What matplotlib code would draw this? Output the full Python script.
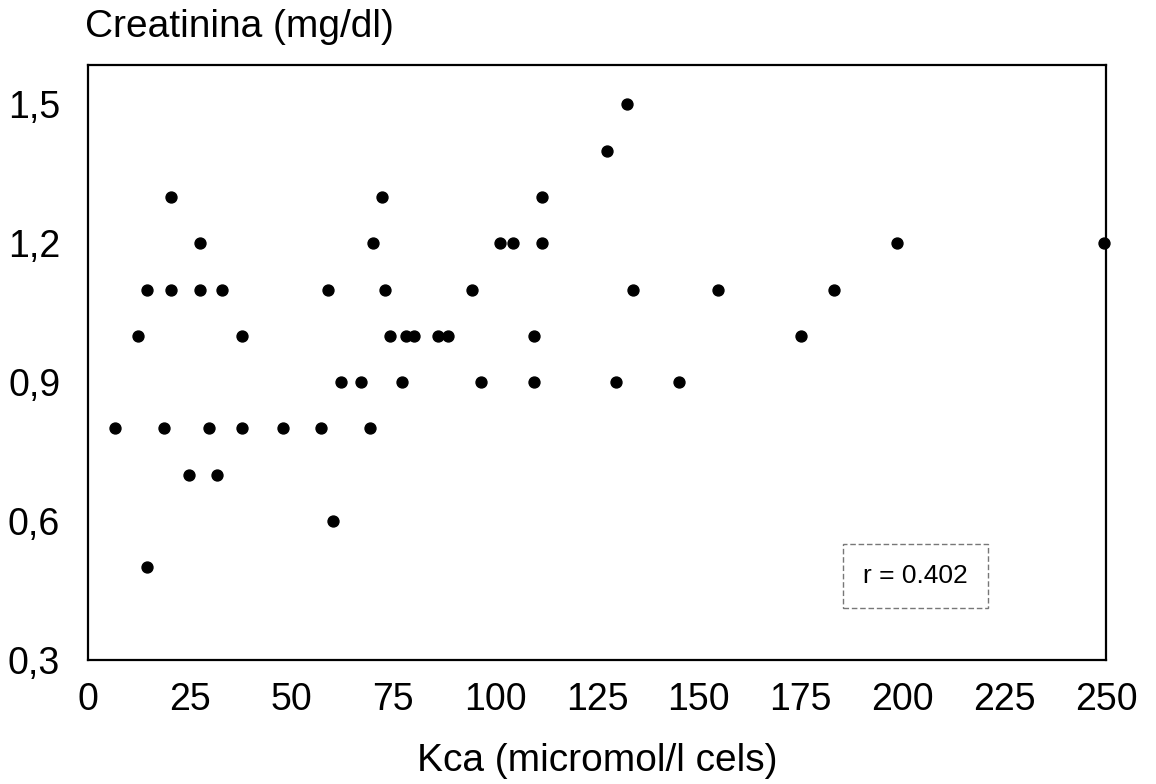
import matplotlib
matplotlib.use("Agg")
import matplotlib.pyplot as plt

plt.rcParams['font.family'] = ['Liberation Sans', 'DejaVu Sans']

# Kca (micromol/l cels) vs creatinina (mg/dl)
kca = [6.7, 12.3, 14.5, 14.5, 18.7, 20.5, 20.5, 24.7, 27.6, 27.6,
       29.8, 31.8, 32.8, 37.7, 37.7, 48.0, 57.2, 58.9, 60.2, 62.1,
       67.0, 69.3, 70.0, 72.2, 73.0, 74.2, 77.2, 78.2, 80.1, 86.0,
       88.3, 94.2, 96.4, 101.3, 104.3, 109.5, 109.5, 111.4, 111.4, 127.5,
       129.7, 132.4, 133.9, 145.2, 154.8, 175.0, 183.2, 198.7, 249.5]
creat = [0.8, 1.0, 1.1, 0.5, 0.8, 1.3, 1.1, 0.7, 1.2, 1.1,
         0.8, 0.7, 1.1, 1.0, 0.8, 0.8, 0.8, 1.1, 0.6, 0.9,
         0.9, 0.8, 1.2, 1.3, 1.1, 1.0, 0.9, 1.0, 1.0, 1.0,
         1.0, 1.1, 0.9, 1.2, 1.2, 1.0, 0.9, 1.3, 1.2, 1.4,
         0.9, 1.5, 1.1, 0.9, 1.1, 1.0, 1.1, 1.2, 1.2]

xticks = [0, 25, 50, 75, 100, 125, 150, 175, 200, 225, 250]
yticks = [0.3, 0.6, 0.9, 1.2, 1.5]
ylabels = ['0,3', '0,6', '0,9', '1,2', '1,5']
r_text = 'r = 0.402'

fig = plt.figure(figsize=(11.56, 7.84), dpi=100)
ax = fig.add_axes([88/1156, 1-660/784, (1106-88)/1156, (660-65)/784])

ax.scatter(kca, creat, s=62, color='black', zorder=3, clip_on=False)

ax.set_xlim(0, 250)
ax.set_ylim(0.3, 1.585)
ax.set_xticks(xticks)
ax.set_xticklabels([str(t) for t in xticks], fontsize=27)
ax.set_yticks(yticks)
ax.set_yticklabels(ylabels, fontsize=27)
ax.tick_params(length=0, pad=20)
ax.tick_params(axis='x', pad=16)
for s in ax.spines.values():
    s.set_linewidth(1.6)

ax.set_xlabel('Kca (micromol/l cels)', fontsize=28, labelpad=18)
fig.text(85/1156, 1-27/784, 'Creatinina (mg/dl)', fontsize=28, va='center', ha='left')

ax.text(0.813, 0.141, r_text, transform=ax.transAxes, fontsize=19,
        ha='center', va='center',
        bbox=dict(boxstyle='square,pad=0.75', facecolor='white',
                  edgecolor='#777777', linestyle=(0, (4, 2)), linewidth=1))

fig.savefig('out.png', dpi=100)
